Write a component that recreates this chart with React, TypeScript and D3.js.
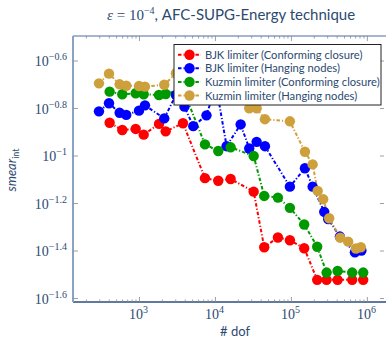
import * as d3 from 'd3';

// series values (dof, smear_int)
const dofBjkConf = [405, 594, 891, 1136, 1807, 2213, 3737, 7278, 10890, 15850, 31840, 43850, 66400, 95500, 147300, 218400, 290300, 405300, 631000, 881000];
const smearBjkConf = [0.138, 0.1287, 0.13, 0.123, 0.1365, 0.127, 0.1374, 0.0807, 0.0787, 0.08, 0.0708, 0.0413, 0.0454, 0.0442, 0.0409, 0.0301, 0.0301, 0.0301, 0.0301, 0.0301];

const dofBjkHang = [293, 397, 548, 670, 985, 1181, 2119, 3020, 3908, 5104, 7621, 10160, 14030, 21460, 27850, 34850, 44800, 95500, 150700, 190200, 270400, 305000, 434500, 685000, 834000];
const smearBjkHang = [0.1542, 0.1667, 0.152, 0.149, 0.1552, 0.1634, 0.144, 0.1807, 0.1614, 0.1336, 0.1483, 0.199, 0.11, 0.1358, 0.1076, 0.1147, 0.11, 0.0743, 0.0888, 0.0743, 0.0582, 0.0543, 0.0458, 0.0393, 0.04];

const dofKuzConf = [405, 594, 891, 1136, 1807, 2213, 3737, 7278, 10890, 15850, 31840, 43850, 66400, 95500, 147300, 218400, 290300, 405300, 631000, 881000];
const smearKuzConf = [0.1866, 0.182, 0.1837, 0.182, 0.1807, 0.1824, 0.1914, 0.1119, 0.105, 0.1088, 0.1, 0.0679, 0.0668, 0.0605, 0.0515, 0.0415, 0.0323, 0.0328, 0.0323, 0.0323];

const dofKuzHang = [293, 397, 548, 670, 985, 1181, 2119, 3020, 3908, 5104, 7621, 10160, 14030, 21460, 27850, 34850, 44800, 95500, 150700, 190200, 221500, 261800, 314000, 438500, 558500, 706000, 820000];
const smearKuzHang = [0.2023, 0.2222, 0.2004, 0.1977, 0.197, 0.196, 0.1995, 0.223, 0.2535, 0.2415, 0.249, 0.259, 0.2194, 0.199, 0.1589, 0.1589, 0.1429, 0.14, 0.1042, 0.0922, 0.0713, 0.0658, 0.0547, 0.0453, 0.0436, 0.0408, 0.0413];

const seriesNames = [
  'BJK limiter (Conforming closure)',
  'BJK limiter (Hanging nodes)',
  'Kuzmin limiter (Conforming closure)',
  'Kuzmin limiter (Hanging nodes)',
];
const seriesColors = ['#ff0000', '#0000ff', '#009a00', '#cda03c'];

const xTickExps = [3, 4, 5, 6];
const yTickExps = ['-0.6', '-0.8', '-1', '-1.2', '-1.4', '-1.6'];

const W = 387;
const H = 342;
const margin = { top: 36, right: 1, bottom: 40, left: 73 };

const textColor = '#2c4a70';
const serif = '"Liberation Serif", "DejaVu Serif", serif';
const sans = 'Lato, "Open Sans", sans-serif';

export default function App() {
  const x = d3.scaleLog()
    .domain([Math.pow(10, 2.125), Math.pow(10, 6.245)])
    .range([margin.left, W - margin.right]);
  const y = d3.scaleLog()
    .domain([Math.pow(10, -1.6147), Math.pow(10, -0.4947)])
    .range([H - margin.bottom, margin.top]);

  const series = [
    { dof: dofBjkConf, smear: smearBjkConf },
    { dof: dofBjkHang, smear: smearBjkHang },
    { dof: dofKuzConf, smear: smearKuzConf },
    { dof: dofKuzHang, smear: smearKuzHang },
  ].map((s, i) => ({
    name: seriesNames[i],
    color: seriesColors[i],
    pts: s.dof.map((d, j) => [d, s.smear[j]] as [number, number]),
  }));

  const line = d3.line<[number, number]>()
    .x(d => x(d[0]))
    .y(d => y(d[1]));

  const x0 = margin.left;
  const x1 = W - margin.right;
  const y0 = margin.top;
  const y1 = H - margin.bottom;

  // minor x ticks, 2..9 x 10^k inside the range
  const minor: number[] = [];
  for (let e = 2; e <= 6; e++) {
    for (let m = 2; m <= 9; m++) {
      const v = m * Math.pow(10, e);
      if (x(v) > x0 && x(v) < x1) minor.push(v);
    }
  }

  const legX = 174;
  const legY = 44.5;
  const legW = 207;
  const legH = 60.5;

  return (
    <svg width={W} height={H} style={{ position: 'absolute', left: 0, top: 0, background: '#fff' }}>
      {/* title */}
      <text x={107} y={20} fill={textColor} fontSize={15}>
        <tspan fontFamily={serif} fontStyle="italic">ε</tspan>
        <tspan fontFamily={serif}> = 10</tspan>
        <tspan fontFamily={serif} fontSize={10} dy={-6}>−4</tspan>
        <tspan fontFamily={sans} dy={6}>, AFC-SUPG-Energy technique</tspan>
      </text>

      {/* data lines */}
      <g clipPath="url(#plotclip)">
        {series.map(s => (
          <path key={s.name + 'l'} d={line(s.pts) || ''} fill="none" stroke={s.color}
            strokeWidth={2} strokeDasharray="3.5 2 1.2 2" />
        ))}
        {series.map(s => (
          <g key={s.name + 'm'}>
            {s.pts.map((p, j) => (
              <circle key={j} cx={x(p[0])} cy={y(p[1])} r={5.2} fill={s.color} />
            ))}
          </g>
        ))}
      </g>
      <defs>
        <clipPath id="plotclip">
          <rect x={x0} y={y0} width={x1 - x0} height={y1 - y0} />
        </clipPath>
      </defs>

      {/* frame */}
      <line x1={x0} x2={x1} y1={y0} y2={y0} stroke="#4a6fa0" strokeWidth={1} />
      <line x1={x0} x2={x1} y1={y1} y2={y1} stroke="#2b4c7e" strokeWidth={1.5} />
      <line x1={x0} x2={x0} y1={y0} y2={y1} stroke="#8aa3c2" strokeWidth={2} />

      {/* x ticks */}
      {xTickExps.map(e => {
        const px = x(Math.pow(10, e));
        return (
          <g key={'xt' + e}>
            <line x1={px} x2={px} y1={y1} y2={y1 - 5} stroke="#888" strokeWidth={0.8} />
            <line x1={px} x2={px} y1={y0} y2={y0 + 5} stroke="#888" strokeWidth={0.8} />
            <text x={px - 1} y={y1 + 17} textAnchor="middle" fill={textColor} fontFamily={serif} fontSize={14}>
              10<tspan fontSize={10} dy={-6}>{e}</tspan>
            </text>
          </g>
        );
      })}
      {minor.map((v, i) => (
        <g key={'mx' + i}>
          <line x1={x(v)} x2={x(v)} y1={y1} y2={y1 - 2.5} stroke="#888" strokeWidth={0.8} />
          <line x1={x(v)} x2={x(v)} y1={y0} y2={y0 + 2.5} stroke="#888" strokeWidth={0.8} />
        </g>
      ))}

      {/* y ticks */}
      {yTickExps.map(e => {
        const py = y(Math.pow(10, +e));
        return (
          <g key={'yt' + e}>
            <line x1={x0} x2={x0 + 5} y1={py} y2={py} stroke="#888" strokeWidth={0.8} />
            <line x1={x1 - 2} x2={x1 - 6} y1={py} y2={py} stroke="#888" strokeWidth={0.8} />
            <text x={67} y={py + 5} textAnchor="end" fill={textColor} fontFamily={serif} fontSize={14}>
              10<tspan fontSize={10} dy={-6}>{e.replace('-', '−')}</tspan>
            </text>
          </g>
        );
      })}

      {/* axis labels */}
      <text x={235} y={336} textAnchor="middle" fill={textColor} fontFamily={sans} fontSize={13}># dof</text>
      <text transform="translate(16,170) rotate(-90)" textAnchor="middle" fill={textColor} fontFamily={sans} fontSize={13}>
        <tspan fontStyle="italic">smear</tspan>
        <tspan fontSize={9} dy={3}>int</tspan>
      </text>

      {/* legend */}
      <rect x={legX} y={legY} width={legW} height={legH} fill="#fff" stroke="#222" strokeWidth={1} />
      {series.map((s, i) => {
        const ly = legY + 10.2 + i * 13.6;
        return (
          <g key={'lg' + i}>
            <line x1={legX + 4} x2={legX + 27} y1={ly} y2={ly} stroke={s.color} strokeWidth={2} strokeDasharray="3.5 2 1.2 2" />
            <circle cx={legX + 15.5} cy={ly} r={5.2} fill={s.color} />
            <text x={legX + 31} y={ly + 4} fill={textColor} fontFamily={sans} fontSize={11.2}>{s.name}</text>
          </g>
        );
      })}
    </svg>
  );
}
